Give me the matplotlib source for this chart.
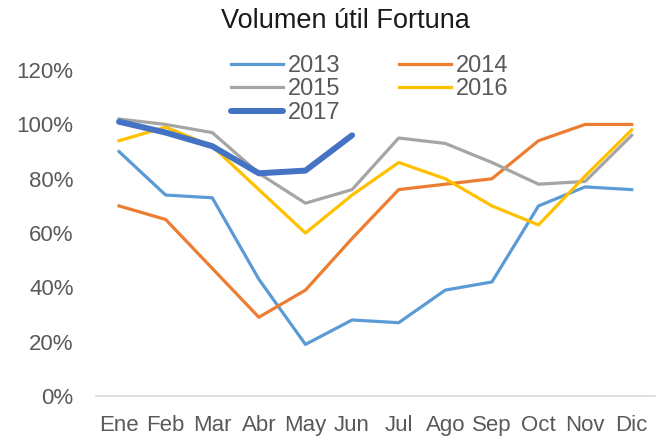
import matplotlib.pyplot as plt
import matplotlib.ticker as mtick

plt.rcParams['font.family'] = ['Liberation Sans', 'DejaVu Sans']

meses = ["Ene", "Feb", "Mar", "Abr", "May", "Jun", "Jul", "Ago", "Sep", "Oct", "Nov", "Dic"]

v2013 = [0.90, 0.74, 0.73, 0.43, 0.19, 0.28, 0.27, 0.39, 0.42, 0.70, 0.77, 0.76]
v2014 = [0.70, 0.65, 0.47, 0.29, 0.39, 0.58, 0.76, 0.78, 0.80, 0.94, 1.00, 1.00]
v2015 = [1.02, 1.00, 0.97, 0.82, 0.71, 0.76, 0.95, 0.93, 0.86, 0.78, 0.79, 0.96]
v2016 = [0.94, 0.99, 0.92, 0.76, 0.60, 0.74, 0.86, 0.80, 0.70, 0.63, 0.81, 0.98]
v2017 = [1.01, 0.97, 0.92, 0.82, 0.83, 0.96]

gris = "#595959"

fig = plt.figure(figsize=(6.57, 4.41), dpi=100)
ax = fig.add_axes([0.1457, 0.102, 0.8513, 0.739])

x = list(range(len(meses)))
l13, = ax.plot(x, v2013, color="#5B9BD5", lw=2.3, label="2013")
l14, = ax.plot(x, v2014, color="#ED7D31", lw=2.3, label="2014")
l15, = ax.plot(x, v2015, color="#A5A5A5", lw=2.3, label="2015")
l16, = ax.plot(x, v2016, color="#FFC000", lw=2.3, label="2016")
l17, = ax.plot(x[:len(v2017)], v2017, color="#4472C4", lw=4.3, label="2017",
               solid_capstyle="round")

ax.set_xlim(-0.5, len(meses) - 0.5)
ax.set_ylim(0, 1.2)
ax.set_xticks(x)
ax.set_xticklabels(meses)
ax.set_yticks([0, 0.2, 0.4, 0.6, 0.8, 1.0, 1.2])
ax.yaxis.set_major_formatter(mtick.PercentFormatter(1.0, decimals=0))
ax.tick_params(axis="both", length=0, labelsize=16, labelcolor=gris)
ax.tick_params(axis="y", pad=16)
ax.tick_params(axis="x", pad=14)

for s in ["top", "right", "left"]:
    ax.spines[s].set_visible(False)
ax.spines["bottom"].set_color("#D9D9D9")
ax.spines["bottom"].set_linewidth(1.2)

fig.text(345 / 657, 1 - 21 / 441, "Volumen útil Fortuna", ha="center", va="center",
         fontsize=19.5, color="#1a1a1a")

fig.legend([l13, l15, l17, l14, l16], ["2013", "2015", "2017", "2014", "2016"],
           ncol=2, loc="upper left", bbox_to_anchor=(219 / 657, 1 - 43 / 441),
           frameon=False, fontsize=17, labelcolor=gris, handlelength=2.2,
           handletextpad=0.2, columnspacing=2.5, labelspacing=0.07, borderpad=0)

fig.savefig("out.png", dpi=100)
